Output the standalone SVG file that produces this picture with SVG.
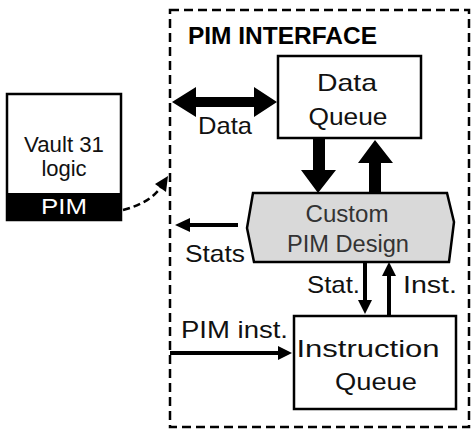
<svg xmlns="http://www.w3.org/2000/svg" width="472" height="434" viewBox="0 0 472 434">
<defs>
<style>
.t{font-family:"Liberation Sans",Arial,sans-serif;font-size:24px;fill:#111;}
.b{fill:#fff;stroke:#000;stroke-width:2.5;}
.thin{stroke:#000;stroke-width:4;fill:none;}
.head{fill:#000;}
</style>
</defs>
<rect width="472" height="434" fill="#fff"/>
<g id="interface">
<rect x="170" y="10" width="299" height="417" fill="none" stroke="#000" stroke-width="2.5" stroke-dasharray="9,5"/>
<text x="188" y="44" font-family="Liberation Sans,Arial,sans-serif" font-weight="bold" font-size="23" textLength="189" lengthAdjust="spacingAndGlyphs" fill="#000">PIM INTERFACE</text>
</g>
<g id="vault">
<rect class="b" x="7" y="94" width="114" height="126"/>
<rect x="7" y="193" width="114" height="27" fill="#000"/>
<text class="t" x="64" y="152" text-anchor="middle" textLength="80" lengthAdjust="spacingAndGlyphs" style="font-size:22px">Vault 31</text>
<text class="t" x="64" y="176" text-anchor="middle" style="font-size:22px">logic</text>
<text class="t" x="64" y="214" text-anchor="middle" style="fill:#fff;font-size:22px" textLength="46" lengthAdjust="spacingAndGlyphs">PIM</text>
</g>
<g id="dataqueue">
<rect class="b" x="278" y="56" width="143" height="82"/>
<text class="t" x="347" y="91" text-anchor="middle" textLength="60" lengthAdjust="spacingAndGlyphs">Data</text>
<text class="t" x="348" y="125" text-anchor="middle" textLength="79" lengthAdjust="spacingAndGlyphs">Queue</text>
</g>
<g id="custom">
<polygon points="253,193 447,193 454,222 449,262 254,262 247,228" fill="#d9d9d9" stroke="#000" stroke-width="2.5"/>
<text class="t" x="347" y="222" text-anchor="middle" textLength="83" lengthAdjust="spacingAndGlyphs" style="fill:#333;font-size:23px">Custom</text>
<text class="t" x="348" y="252" text-anchor="middle" textLength="122" lengthAdjust="spacingAndGlyphs" style="fill:#333;font-size:23px">PIM Design</text>
</g>
<g id="instqueue">
<rect class="b" x="294" y="316" width="162" height="93"/>
<text class="t" x="368" y="357" text-anchor="middle" textLength="143" lengthAdjust="spacingAndGlyphs">Instruction</text>
<text class="t" x="376" y="390" text-anchor="middle" textLength="82" lengthAdjust="spacingAndGlyphs">Queue</text>
</g>
<g id="connectors">
<polygon class="head" points="172,102 196,87 196,97 254,97 254,87 277,102 254,117 254,107 196,107 196,117"/>
<polygon class="head" points="313,138 325,138 325,170 336,170 318,193 301,170 313,170"/>
<polygon class="head" points="369,193 381,193 381,163 393,163 375,140 358,163 369,163"/>
<path d="M123,210 Q150,203 161,187" fill="none" stroke="#000" stroke-width="2.5" stroke-dasharray="7,4"/>
<polygon class="head" points="168,176 166,192 155,184"/>
<line class="thin" x1="238" y1="225" x2="188" y2="225"/>
<polygon class="head" points="175,225 190,218 190,232"/>
<line class="thin" x1="365" y1="262" x2="365" y2="302"/>
<polygon class="head" points="365,314 358,300 372,300"/>
<line class="thin" x1="389" y1="316" x2="389" y2="274"/>
<polygon class="head" points="389,262 382,276 396,276"/>
<line class="thin" x1="170" y1="353" x2="280" y2="353"/>
<polygon class="head" points="292,353 278,346 278,360"/>
<text class="t" x="198" y="134" textLength="54" lengthAdjust="spacingAndGlyphs">Data</text>
<text class="t" x="185" y="262" textLength="60" lengthAdjust="spacingAndGlyphs">Stats</text>
<text class="t" x="307" y="293" textLength="53" lengthAdjust="spacingAndGlyphs">Stat.</text>
<text class="t" x="403" y="293" textLength="54" lengthAdjust="spacingAndGlyphs">Inst.</text>
<text class="t" x="181" y="338" textLength="107" lengthAdjust="spacingAndGlyphs">PIM inst.</text>
</g>
</svg>
